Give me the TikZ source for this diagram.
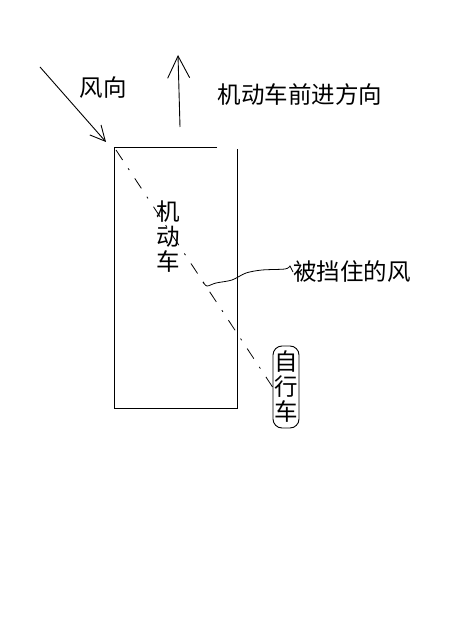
\documentclass[tikz,border=0pt]{standalone}
\usepackage{fontspec}
\newfontfamily\cjk{Noto Sans CJK SC}
\usetikzlibrary{arrows.meta}
\definecolor{InkBlack}{HTML}{000000}

\begin{document}
\begin{tikzpicture}[x=1pt,y=-1pt,line width=0.9pt,color=InkBlack,
    label/.style={inner sep=0pt,font=\cjk\fontsize{23.5}{25}\selectfont},
    barb/.style={-{Straight Barb[length=#1,width=#1]}}]
    \useasboundingbox[fill=white] (0,0) rectangle (460,644);
    % car outline
    \draw (217,147) -- (114,147) -- (114,408) -- (237,408) -- (237,149);
    \coordinate (windtail) at (40,67);
    \coordinate (windhead) at (106,142);
    \coordinate (fwdtail) at (180,127);
    \coordinate (fwdhead) at (178,55);
    \draw[barb=15pt] (windtail) -- (windhead);
    \draw[barb=22pt] (fwdtail) -- (fwdhead);
    \node[label] (wind) at (103,88) {风向};
    \node[label] (forward) at (300,95) {机动车前进方向};
    \node[label,align=center] (car) at (168,237) {机\\动\\车};
    \node[label,align=center,draw,rounded corners=9pt,minimum width=26pt,
      minimum height=82pt,text width=24pt] (bike) at (286,387) {自\\行\\车};
    \node[label,anchor=west] (blocked) at (293,272) {被挡住的风};
    \coordinate (shadow) at (116,150);
    \draw[line width=0.8pt,dash pattern=on 12pt off 10pt on 2pt off 10pt]
      (shadow) -- (bike.west);
    \draw[line width=0.8pt] plot[smooth] coordinates {(203,282) (207,286)
      (216,283) (232,280) (246,273) (262,270) (285,269) (290,266)}
      -- (blocked.west);
\end{tikzpicture}
\end{document}
